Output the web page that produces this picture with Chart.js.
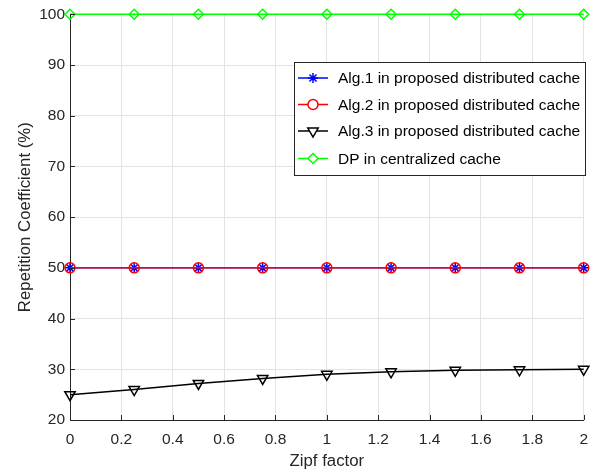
<!DOCTYPE html>
<html>
<head>
<meta charset="utf-8">
<script src="https://cdn.jsdelivr.net/npm/chart.js@4/dist/chart.umd.min.js"></script>
<style>
  html, body { margin: 0; padding: 0; background: #fff; }
  #wrap { width: 598px; height: 475px; }
</style>
</head>
<body>
<div id="wrap"><canvas id="chart" width="598" height="475"></canvas></div>
<script>
// Zipf factor values along the x axis
const zipf = [0, 0.25, 0.5, 0.75, 1, 1.25, 1.5, 1.75, 2];
const xTicks = [0, 0.2, 0.4, 0.6, 0.8, 1, 1.2, 1.4, 1.6, 1.8, 2];

// Repetition coefficient (%) per method
const alg1 = [50, 50, 50, 50, 50, 50, 50, 50, 50];
const alg2 = [50, 50, 50, 50, 50, 50, 50, 50, 50];
const alg3 = [25, 26, 27.2, 28.2, 29, 29.5, 29.8, 29.9, 30];
const dp   = [100, 100, 100, 100, 100, 100, 100, 100, 100];

const labels = [
  'Alg.1 in proposed distributed cache',
  'Alg.2 in proposed distributed cache',
  'Alg.3 in proposed distributed cache',
  'DP in centralized cache'
];

const FONT = 'Liberation Sans, Arial, Helvetica, sans-serif';
const AXIS = '#262626';
const toXY = vals => vals.map((v, i) => ({ x: zipf[i], y: v }));

function series(label, vals, color, style, extra) {
  return Object.assign({
    label: label,
    data: toXY(vals),
    borderColor: color,
    backgroundColor: 'rgba(0,0,0,0)',
    borderWidth: 1.5,
    pointStyle: style,
    pointRadius: 5,
    pointBorderColor: color,
    pointBackgroundColor: 'rgba(0,0,0,0)',
    pointBorderWidth: 1.5,
    clip: false,
    tension: 0
  }, extra || {});
}

// Short inward tick marks on the left and bottom axes
const innerTicks = {
  id: 'innerTicks',
  afterDraw(chart) {
    const ctx = chart.ctx;
    const a = chart.chartArea;
    const xs = chart.scales.x, ys = chart.scales.y;
    ctx.save();
    ctx.strokeStyle = AXIS;
    ctx.lineWidth = 1;
    ctx.beginPath();
    xs.ticks.forEach(t => {
      const px = Math.round(xs.getPixelForValue(t.value)) + 0.5;
      ctx.moveTo(px, a.bottom);
      ctx.lineTo(px, a.bottom - 5);
    });
    ys.ticks.forEach(t => {
      const py = Math.round(ys.getPixelForValue(t.value)) + 0.5;
      ctx.moveTo(a.left, py);
      ctx.lineTo(a.left + 5, py);
    });
    ctx.stroke();
    ctx.restore();
  }
};

// Legend box drawn inside the plot area, upper right
const insideLegend = {
  id: 'insideLegend',
  afterDraw(chart) {
    const ctx = chart.ctx;
    const x0 = 294, y0 = 62, w = 291, h = 113;
    ctx.save();
    ctx.fillStyle = '#fff';
    ctx.fillRect(x0, y0, w, h);
    ctx.strokeStyle = AXIS;
    ctx.lineWidth = 1;
    ctx.strokeRect(x0 + 0.5, y0 + 0.5, w, h);
    ctx.font = '15.5px ' + FONT;
    ctx.textBaseline = 'middle';
    const rows = [78, 104.5, 131, 158.5];
    chart.data.datasets.forEach(ds => {
      const y = rows[ds.legendRow];
      ctx.strokeStyle = ds.borderColor;
      ctx.lineWidth = 1.5;
      ctx.beginPath();
      ctx.moveTo(x0 + 4, y);
      ctx.lineTo(x0 + 34, y);
      ctx.stroke();
      ctx.fillStyle = '#fff';
      Chart.helpers.drawPoint(ctx, {
        pointStyle: ds.pointStyle,
        radius: ds.pointRadius,
        rotation: ds.pointRotation || 0,
        borderWidth: 1.5
      }, x0 + 19, y);
      ctx.fillStyle = '#000';
      ctx.fillText(ds.label, x0 + 44, y + 1);
    });
    ctx.restore();
  }
};

new Chart(document.getElementById('chart'), {
  type: 'line',
  data: {
    datasets: [
      series(labels[3], dp, '#00ff00', 'rectRot', { legendRow: 3, order: 3 }),
      series(labels[2], alg3, '#000000', 'triangle', { legendRow: 2, order: 2, pointRotation: 180, pointRadius: 6 }),
      series(labels[0], alg1, '#0000ff', 'star', { legendRow: 0, order: 1 }),
      series(labels[1], alg2, '#ff0000', 'circle', { legendRow: 1, order: 0 })
    ]
  },
  options: {
    responsive: false,
    animation: false,
    layout: { padding: { top: 13, right: 13, left: 0, bottom: 0 } },
    plugins: {
      legend: { display: false },
      tooltip: { enabled: false }
    },
    scales: {
      x: {
        type: 'linear',
        min: 0,
        max: 2,
        afterBuildTicks: axis => { axis.ticks = xTicks.map(v => ({ value: v })); },
        afterFit: axis => { axis.height = 55; },
        grid: { color: '#e3e3e3', drawTicks: false, lineWidth: 1 },
        border: { color: AXIS, width: 1 },
        ticks: {
          padding: 10,
          color: AXIS,
          font: { family: FONT, size: 15.5 },
          maxRotation: 0,
          callback: v => String(Math.round(v * 10) / 10)
        },
        title: {
          display: true,
          text: 'Zipf factor',
          color: AXIS,
          font: { family: FONT, size: 16.8 },
          padding: { top: 0 }
        }
      },
      y: {
        min: 20,
        max: 100,
        afterFit: axis => { axis.width = 70; },
        grid: { color: '#e3e3e3', drawTicks: false, lineWidth: 1 },
        border: { color: AXIS, width: 1 },
        ticks: {
          stepSize: 10,
          padding: 5,
          color: AXIS,
          font: { family: FONT, size: 15.5 }
        },
        title: {
          display: true,
          text: 'Repetition Coefficient (%)',
          color: AXIS,
          font: { family: FONT, size: 16.8 },
          padding: { top: 15, bottom: 0 }
        }
      }
    }
  },
  plugins: [innerTicks, insideLegend]
});
</script>
</body>
</html>
